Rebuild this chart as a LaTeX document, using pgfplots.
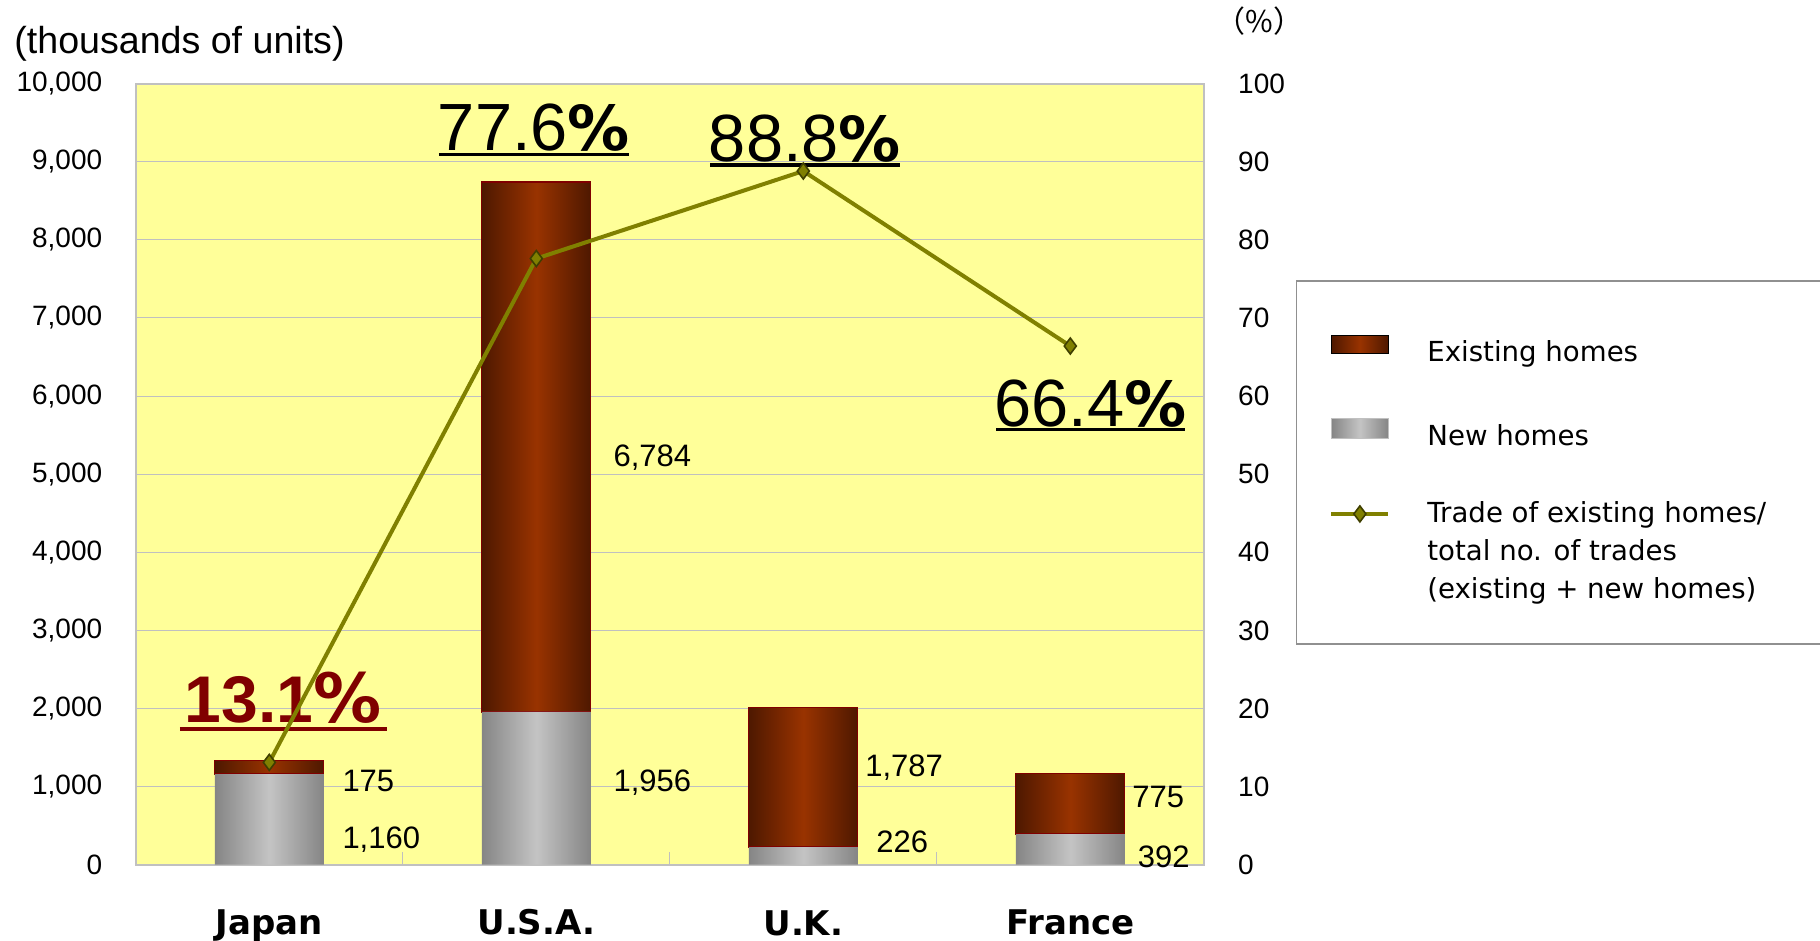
\documentclass[border=0pt]{standalone}
\usepackage{fontspec}
\setmainfont{Liberation Sans}
\newfontfamily\dejavu{DejaVu Sans}
\newfontfamily\cjk{Noto Sans CJK JP}
\usepackage{pgfplots}
\pgfplotsset{compat=1.18}
\definecolor{bgyellow}{HTML}{FFFF99}
\definecolor{exdark}{HTML}{4E1800}
\definecolor{exmid}{HTML}{993300}
\definecolor{exborder}{HTML}{800000}
\definecolor{nwdark}{HTML}{858585}
\definecolor{nwmid}{HTML}{C4C4C4}
\definecolor{olivec}{HTML}{808000}
\definecolor{olivedark}{HTML}{3F3F00}
\definecolor{gridgray}{HTML}{C0C0C0}
\definecolor{darkred}{HTML}{800000}
\definecolor{legframe}{HTML}{909090}
% horizontal gradients repeating once per bar (bars span the central 25bp..75bp)
\pgfdeclarehorizontalshading{exshade}{100bp}{color(0bp)=(exdark); color(25bp)=(exdark); color(27.995bp)=(exmid); color(30.989bp)=(exdark); color(39.670bp)=(exdark); color(42.665bp)=(exmid); color(45.659bp)=(exdark); color(54.341bp)=(exdark); color(57.335bp)=(exmid); color(60.330bp)=(exdark); color(69.011bp)=(exdark); color(72.005bp)=(exmid); color(75bp)=(exdark); color(100bp)=(exdark)}
\pgfdeclarehorizontalshading{nwshade}{100bp}{color(0bp)=(nwdark); color(25bp)=(nwdark); color(27.995bp)=(nwmid); color(30.989bp)=(nwdark); color(39.670bp)=(nwdark); color(42.665bp)=(nwmid); color(45.659bp)=(nwdark); color(54.341bp)=(nwdark); color(57.335bp)=(nwmid); color(60.330bp)=(nwdark); color(69.011bp)=(nwdark); color(72.005bp)=(nwmid); color(75bp)=(nwdark); color(100bp)=(nwdark)}
\tikzset{dlab/.style={anchor=base west, inner sep=0pt, font=\fontsize{15.5}{18}\selectfont}}
\pgfplotsset{
  trade legend/.style={legend image code/.code={\draw[mark repeat=2,mark phase=2,##1] plot coordinates {(0pt,0pt) (14.25pt,0pt) (28.5pt,0pt)};}},
  exist legend/.style={legend image code/.code={\shade[left color=exdark,right color=exdark,middle color=exmid] (0pt,-0.2pt) rectangle (28.5pt,8.8pt);}},
  new legend/.style={legend image code/.code={\shade[left color=nwdark,right color=nwdark,middle color=nwmid, draw=gridgray, line width=0.4pt] (0pt,-0.7pt) rectangle (28.5pt,9.3pt);}},
}
\begin{document}
\begin{tikzpicture}
\path[use as bounding box] (0,0) rectangle (910pt,470.5pt);
\begin{axis}[
  at={(67.9pt,38.15pt)}, anchor=south west,
  width=534pt, height=390.55pt, scale only axis,
  xmin=-0.5, xmax=3.5, ymin=0, ymax=10000,
  ytick={0,1000,...,10000},
  xtick={0,1,2,3},
  xticklabels={Japan,U.S.A.,{\raisebox{-0.4pt}[0pt][0pt]{U.K.}},France},
  ybar stacked, bar width=54.5pt,
  axis background/.style={fill=bgyellow},
  axis line style={gridgray, line width=1pt},
  ymajorgrids, grid style={gridgray, line width=0.5pt},
  major tick length=0pt,
  xtick pos=bottom, ytick pos=left, tick align=inside,
  extra x ticks={0.5,1.5,2.5}, extra x tick labels={},
  extra x tick style={major tick length=6.5pt, tick style={gridgray, line width=0.6pt}},
  scaled y ticks=false,
  /pgf/number format/assume math mode=true,
  yticklabel style={font=\fontsize{14}{16}\selectfont, anchor=east, inner sep=0pt, xshift=-16.6pt},
  xticklabel style={font=\dejavu\bfseries\fontsize{17}{20}\selectfont, anchor=north, inner sep=0pt, text height=12.4pt, text depth=0pt, yshift=-22.3pt},
  clip=false,
]
\addplot[draw=none, shade, shading=nwshade, shading angle=0]
  coordinates {(0,1160) (1,1956) (2,226) (3,392)};
\addplot[draw=exborder, line width=0.6pt, shade, shading=exshade, shading angle=0]
  coordinates {(0,175) (1,6784) (2,1787) (3,775)};

\node[dlab] at (axis cs:0.2727,933) {175};
\node[dlab] at (axis cs:0.2727,202) {1,160};
\node[dlab] at (axis cs:1.2877,5104) {6,784};
\node[dlab] at (axis cs:1.2877,933) {1,956};
\node[dlab] at (axis cs:2.231,1123) {1,787};
\node[dlab] at (axis cs:2.272,156) {226};
\node[dlab] at (axis cs:3.231,726) {775};
\node[dlab] at (axis cs:3.2517,-37) {392};

\node[anchor=base, inner sep=0pt, text=darkred] at (axis cs:0.0524,1820)
  {\fontsize{33}{36}\selectfont\bfseries 13.1{\dejavu\fontsize{34}{36}\selectfont\%}};
\draw[darkred, line width=1.75pt] (axis cs:-0.3345,1737) -- (axis cs:0.439,1737);

\node[anchor=base, inner sep=0pt] at (axis cs:0.9914,9137)
  {\fontsize{33.4}{36}\selectfont 77.6{\dejavu\bfseries\fontsize{31}{36}\selectfont\%}};
\draw[black, line width=1.75pt] (axis cs:0.635,9094) -- (axis cs:1.347,9094);

\node[anchor=base, inner sep=0pt] at (axis cs:2.0064,9008)
  {\fontsize{33.4}{36}\selectfont 88.8{\dejavu\bfseries\fontsize{31}{36}\selectfont\%}};
\draw[black, line width=1.75pt] (axis cs:1.6506,8960) -- (axis cs:2.3607,8960);

\node[anchor=base, inner sep=0pt] at (axis cs:3.076,5616)
  {\fontsize{33.4}{36}\selectfont 66.4{\dejavu\bfseries\fontsize{31}{36}\selectfont\%}};
\draw[black, line width=1.75pt] (axis cs:2.7217,5572) -- (axis cs:3.4296,5572);
\end{axis}

\begin{axis}[
  at={(67.9pt,38.15pt)}, anchor=south west,
  width=534pt, height=390.55pt, scale only axis,
  xmin=-0.5, xmax=3.5, ymin=0, ymax=100,
  axis x line=none, axis y line*=right,
  y axis line style={draw=none},
  ytick={0,10,...,100},
  major tick length=0pt,
  /pgf/number format/assume math mode=true,
  yticklabel style={font=\fontsize{14}{16}\selectfont, anchor=west, inner sep=0pt, xshift=17pt},
  clip=false,
  legend style={at={(1.1172,0.6787)}, anchor=north west, draw=none, fill=none,
    inner sep=0pt, row sep=26.5pt, column sep=18.5pt,
    nodes={inner sep=0pt},
    font=\dejavu\fontsize{13.8}{18.8}\selectfont},
  legend cell align=left,
]
\addlegendimage{exist legend}
\addlegendentry{Existing homes}
\addlegendimage{new legend}
\addlegendentry{New homes}
\addplot[color=olivec, line width=2pt, mark=diamond*, mark size=4pt,
  mark options={fill=olivec, draw=olivedark, line width=0.8pt}, trade legend]
  coordinates {(0,13.1) (1,77.6) (2,88.8) (3,66.4)};
\addlegendentry{\parbox[t]{200pt}{\fontsize{13.8}{18.8}\selectfont Trade of existing homes/\\total no. of trades\\(existing + new homes)}}
\end{axis}

\draw[legframe, line width=0.75pt] (648.25pt,148.5pt) rectangle (915pt,330pt);
\node[anchor=west, inner sep=0pt, font=\fontsize{18.8}{22}\selectfont] at (7pt,448.5pt) {(thousands of units)};
\node[inner sep=0pt, font=\cjk\fontsize{15}{17}\selectfont] at (629.75pt,460pt) {（\%）};
\end{tikzpicture}
\end{document}
